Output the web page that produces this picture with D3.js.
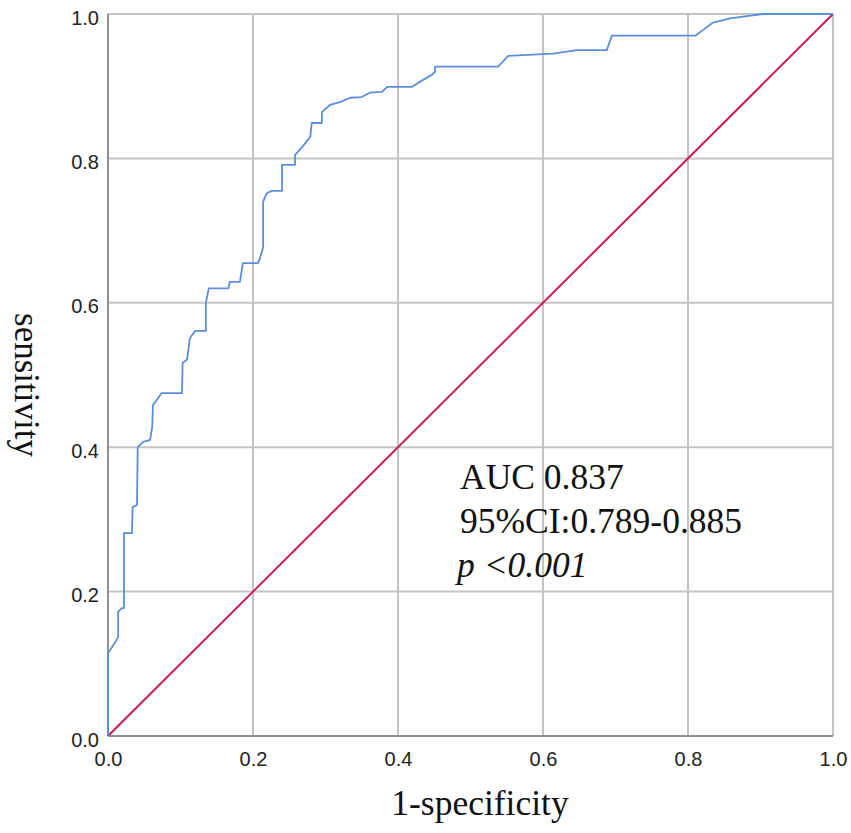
<!DOCTYPE html>
<html>
<head>
<meta charset="utf-8">
<script src="https://cdn.jsdelivr.net/npm/d3@7"></script>
<style>
  body { margin: 0; background: #fff; }
</style>
</head>
<body>
<div id="chart"></div>
<script>
// ROC curve points: 1-specificity, sensitivity
let fpr = [0, 0, 0.003, 0.010, 0.014, 0.014, 0.019, 0.022, 0.022, 0.033, 0.034, 0.040, 0.041,
  0.048, 0.058, 0.061, 0.062, 0.074, 0.102, 0.103, 0.109, 0.113, 0.120, 0.135, 0.135, 0.139,
  0.166, 0.168, 0.182, 0.186, 0.207, 0.210, 0.214, 0.214, 0.219, 0.226, 0.240, 0.240, 0.258,
  0.258, 0.268, 0.279, 0.281, 0.295, 0.295, 0.306, 0.320, 0.334, 0.350, 0.361, 0.378, 0.385,
  0.419, 0.430, 0.447, 0.451, 0.451, 0.538, 0.552, 0.614, 0.647, 0.688, 0.695, 0.810, 0.821,
  0.834, 0.858, 0.881, 0.903, 1];
let tpr = [0, 0.115, 0.119, 0.130, 0.137, 0.172, 0.177, 0.177, 0.281, 0.281, 0.317, 0.320, 0.400,
  0.407, 0.410, 0.428, 0.458, 0.475, 0.475, 0.517, 0.521, 0.551, 0.561, 0.561, 0.600, 0.620,
  0.620, 0.629, 0.629, 0.655, 0.655, 0.663, 0.677, 0.740, 0.752, 0.755, 0.755, 0.791, 0.791,
  0.805, 0.816, 0.830, 0.849, 0.849, 0.864, 0.874, 0.878, 0.884, 0.885, 0.891, 0.892, 0.899,
  0.899, 0.906, 0.916, 0.920, 0.927, 0.927, 0.942, 0.945, 0.950, 0.950, 0.970, 0.970, 0.978,
  0.988, 0.994, 0.997, 1.0, 1.0];
let ref = [0, 1];  // chance line
let ticks = [0, 0.2, 0.4, 0.6, 0.8, 1.0];
let notes = ["AUC 0.837", "95%CI:0.789-0.885", "p <0.001"];

let W = 851, H = 833;
let mLeft = 108, mRight = 833, mTop = 14, mBottom = 736;

let svg = d3.select("#chart")
  .append("svg")
  .attr("width", W)
  .attr("height", H);

let x = d3.scaleLinear().domain([0, 1]).range([mLeft, mRight]);
let y = d3.scaleLinear().domain([0, 1]).range([mBottom, mTop]);

// grid
svg.append("g")
  .selectAll("line")
  .data(ticks)
  .enter()
  .append("line")
  .attr("x1", d => x(d))
  .attr("x2", d => x(d))
  .attr("y1", y(0))
  .attr("y2", y(1))
  .attr("stroke", "#c4c4c4")
  .attr("stroke-width", 2);

svg.append("g")
  .selectAll("line")
  .data(ticks)
  .enter()
  .append("line")
  .attr("x1", x(0))
  .attr("x2", x(1))
  .attr("y1", d => y(d))
  .attr("y2", d => y(d))
  .attr("stroke", "#c4c4c4")
  .attr("stroke-width", 2);

// left and bottom frame a bit darker
svg.append("line")
  .attr("x1", x(0)).attr("x2", x(0))
  .attr("y1", y(0)).attr("y2", y(1))
  .attr("stroke", "#909090").attr("stroke-width", 2);
svg.append("line")
  .attr("x1", x(0)).attr("x2", x(1))
  .attr("y1", y(0)).attr("y2", y(0))
  .attr("stroke", "#909090").attr("stroke-width", 2);

// axes labels
let fmt = d3.format(".1f");
let gx = svg.append("g")
  .attr("transform", "translate(0," + y(0) + ")")
  .call(d3.axisBottom(x).tickValues(ticks).tickFormat(fmt).tickSize(0).tickPadding(16));
let gy = svg.append("g")
  .attr("transform", "translate(" + x(0) + ",0)")
  .call(d3.axisLeft(y).tickValues(ticks).tickFormat(fmt).tickSize(0).tickPadding(9));

[gx, gy].forEach(g => {
  g.select(".domain").remove();
  g.selectAll("text")
    .style("font-family", "'Liberation Sans', Arial, sans-serif")
    .style("font-size", "20px")
    .attr("fill", "#222");
});
gy.selectAll("text").attr("dy", "0.5em");

// chance line
let line = d3.line().x(d => x(d[0])).y(d => y(d[1]));
svg.append("path")
  .attr("d", line(ref.map((d, i) => [d, ref[i]])))
  .attr("fill", "none")
  .attr("stroke", "#c81d50")
  .attr("stroke-width", 2);

// ROC curve
svg.append("path")
  .attr("d", line(fpr.map((d, i) => [d, tpr[i]])))
  .attr("fill", "none")
  .attr("stroke", "#5b8fd9")
  .attr("stroke-width", 1.8)
  .attr("stroke-linejoin", "round");

// annotation
let serif = "'Liberation Serif', 'Times New Roman', serif";
svg.append("g")
  .selectAll("text")
  .data(notes)
  .enter()
  .append("text")
  .attr("x", (d, i) => i == 2 ? 457 : 460)
  .attr("y", (d, i) => 489 + i * 44)
  .style("font-family", serif)
  .style("font-size", "35.5px")
  .style("font-style", (d, i) => i == 2 ? "italic" : "normal")
  .attr("fill", "#111")
  .text(d => d);

// axis titles
svg.append("text")
  .attr("x", 480)
  .attr("y", 815)
  .attr("text-anchor", "middle")
  .style("font-family", serif)
  .style("font-size", "35.5px")
  .attr("fill", "#111")
  .text("1-specificity");

svg.append("text")
  .attr("transform", "translate(15,385) rotate(90)")
  .attr("text-anchor", "middle")
  .style("font-family", serif)
  .style("font-size", "35px")
  .attr("fill", "#111")
  .text("sensitivity");
</script>
</body>
</html>
